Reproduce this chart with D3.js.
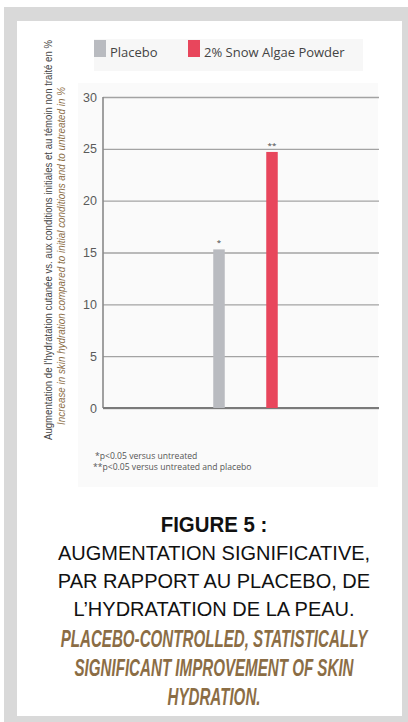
<!DOCTYPE html>
<html>
<head>
<meta charset="utf-8">
<script src="https://cdn.jsdelivr.net/npm/d3@7"></script>
<style>
  html, body { margin: 0; padding: 0; background: #fff; }
</style>
</head>
<body>
<div id="vis"></div>
<script>
var categories = ["Placebo", "2% Snow Algae Powder"],
    values = [15.3, 24.7],
    stars = ["*", "**"],
    colors = ["#b9bbc0", "#e8465c"],
    yTicks = [0, 5, 10, 15, 20, 25, 30],
    notes = ["*p<0.05 versus untreated", "**p<0.05 versus untreated and placebo"],
    yTitleFr = "Augmentation de l\u2019hydratation cutanée vs. aux conditions initiales et au témoin non traité en %",
    yTitleEn = "Increase in skin hydration compared to initial conditions and to untreated in %",
    captionFr = ["AUGMENTATION SIGNIFICATIVE,", "PAR RAPPORT AU PLACEBO, DE", "L\u2019HYDRATATION DE LA PEAU."],
    captionEn = ["PLACEBO-CONTROLLED, STATISTICALLY", "SIGNIFICANT IMPROVEMENT OF SKIN", "HYDRATION."];

var width = 408,
    height = 722,
    narrow = "'Liberation Sans Narrow', 'Liberation Sans', sans-serif";

var svg = d3.select("#vis").append("svg")
    .attr("width", width)
    .attr("height", height)
    .style("display", "block");

// frame
svg.append("rect")
    .attr("x", 4).attr("y", 7)
    .attr("width", width - 4).attr("height", height - 7)
    .attr("fill", "#d9d9d9");
svg.append("rect")
    .attr("x", 17).attr("y", 21)
    .attr("width", 385).attr("height", 695)
    .attr("fill", "#fff");

// chart background + legend background
svg.append("rect")
    .attr("x", 78).attr("y", 83)
    .attr("width", 300).attr("height", 404)
    .attr("fill", "#fafafa");
svg.append("rect")
    .attr("x", 94).attr("y", 39)
    .attr("width", 269).attr("height", 32)
    .attr("fill", "#f7f7f7");

var y = d3.scaleLinear()
    .domain([0, 30])
    .range([408, 97]);

var x = d3.scalePoint()
    .domain(categories)
    .range([219, 272]);

var left = 103, right = 379;

var axis = svg.append("g")
    .attr("transform", "translate(" + left + ",0)")
    .call(d3.axisLeft(y).tickValues(yTicks).tickSize(-(right - left)).tickPadding(6));

axis.select(".domain").remove();
axis.selectAll(".tick line")
    .attr("stroke", "#a3a3a3")
    .attr("stroke-width", 1.4);
axis.selectAll(".tick text")
    .attr("fill", "#5a5a5a")
    .style("font-family", narrow)
    .style("font-size", "12.5px");

svg.append("line")
    .attr("x1", left).attr("x2", left)
    .attr("y1", y(30)).attr("y2", y(0))
    .attr("stroke", "#8a8a8a")
    .attr("stroke-width", 1.6);
svg.append("line")
    .attr("x1", left).attr("x2", right)
    .attr("y1", y(0)).attr("y2", y(0))
    .attr("stroke", "#7a7a7a")
    .attr("stroke-width", 2);

// bars
var bw = 11.5;
svg.selectAll(".bar")
    .data(values)
    .enter().append("rect")
    .attr("class", "bar")
    .attr("x", function(d, i) { return x(categories[i]) - bw / 2; })
    .attr("y", function(d) { return y(d); })
    .attr("width", bw)
    .attr("height", function(d) { return y(0) - y(d); })
    .attr("fill", function(d, i) { return colors[i]; });

svg.selectAll(".star")
    .data(values)
    .enter().append("text")
    .attr("class", "star")
    .attr("x", function(d, i) { return x(categories[i]); })
    .attr("y", function(d) { return y(d) - 4; })
    .attr("text-anchor", "middle")
    .attr("fill", "#444")
    .style("font-family", "'Open Sans', sans-serif")
    .style("font-size", "8px")
    .text(function(d, i) { return stars[i]; });

// legend
var legend = svg.selectAll(".legend")
    .data(categories)
    .enter().append("g")
    .attr("class", "legend")
    .attr("transform", function(d, i) { return "translate(" + [94, 188][i] + ",40)"; });
legend.append("rect")
    .attr("width", 12).attr("height", 17)
    .attr("fill", function(d, i) { return colors[i]; });
legend.append("text")
    .attr("x", 16).attr("y", 16.5)
    .attr("fill", "#444")
    .style("font-family", "'Open Sans', sans-serif")
    .style("font-size", "13px")
    .text(function(d) { return d; });

// y titles
svg.append("text")
    .attr("transform", "translate(52,240)rotate(-90)")
    .attr("text-anchor", "middle")
    .attr("fill", "#444")
    .attr("textLength", 400)
    .attr("lengthAdjust", "spacingAndGlyphs")
    .style("font-family", narrow)
    .style("font-size", "10.5px")
    .text(yTitleFr);
svg.append("text")
    .attr("transform", "translate(65,256)rotate(-90)")
    .attr("text-anchor", "middle")
    .attr("fill", "#8b6d45")
    .attr("textLength", 338)
    .attr("lengthAdjust", "spacingAndGlyphs")
    .style("font-family", narrow)
    .style("font-style", "italic")
    .style("font-size", "10.5px")
    .text(yTitleEn);

// footnotes
svg.selectAll(".note")
    .data(notes)
    .enter().append("text")
    .attr("class", "note")
    .attr("x", function(d, i) { return i ? 93 : 95; })
    .attr("y", function(d, i) { return 459 + i * 11; })
    .attr("fill", "#555")
    .style("font-family", "'Open Sans', sans-serif")
    .style("font-size", "8.6px")
    .text(function(d) { return d; });

// caption
var cx = 214;
svg.append("text")
    .attr("transform", "translate(" + cx + ",532)scale(0.95,1)")
    .attr("text-anchor", "middle")
    .attr("fill", "#111")
    .style("font-family", narrow)
    .style("font-weight", "bold")
    .style("font-size", "21.5px")
    .text("FIGURE 5 :");
svg.selectAll(".capfr")
    .data(captionFr)
    .enter().append("text")
    .attr("class", "capfr")
    .attr("x", cx)
    .attr("y", function(d, i) { return 560 + i * 28; })
    .attr("text-anchor", "middle")
    .attr("fill", "#111")
    .style("font-family", narrow)
    .style("font-size", "20px")
    .text(function(d) { return d; });

// condensed bold italic lines, squeezed horizontally so the first is ≈307px wide
var capEn = svg.selectAll(".capen")
    .data(captionEn)
    .enter().append("text")
    .attr("class", "capen")
    .attr("text-anchor", "middle")
    .attr("fill", "#8b6d45")
    .style("font-family", narrow)
    .style("font-weight", "bold")
    .style("font-style", "italic")
    .style("font-size", "23.5px")
    .text(function(d) { return d; });

var k = 307 / capEn.node().getComputedTextLength();
capEn.attr("transform", function(d, i) {
    return "translate(" + cx + "," + (647 + i * 29) + ")scale(" + k + ",1)";
});
</script>
</body>
</html>
